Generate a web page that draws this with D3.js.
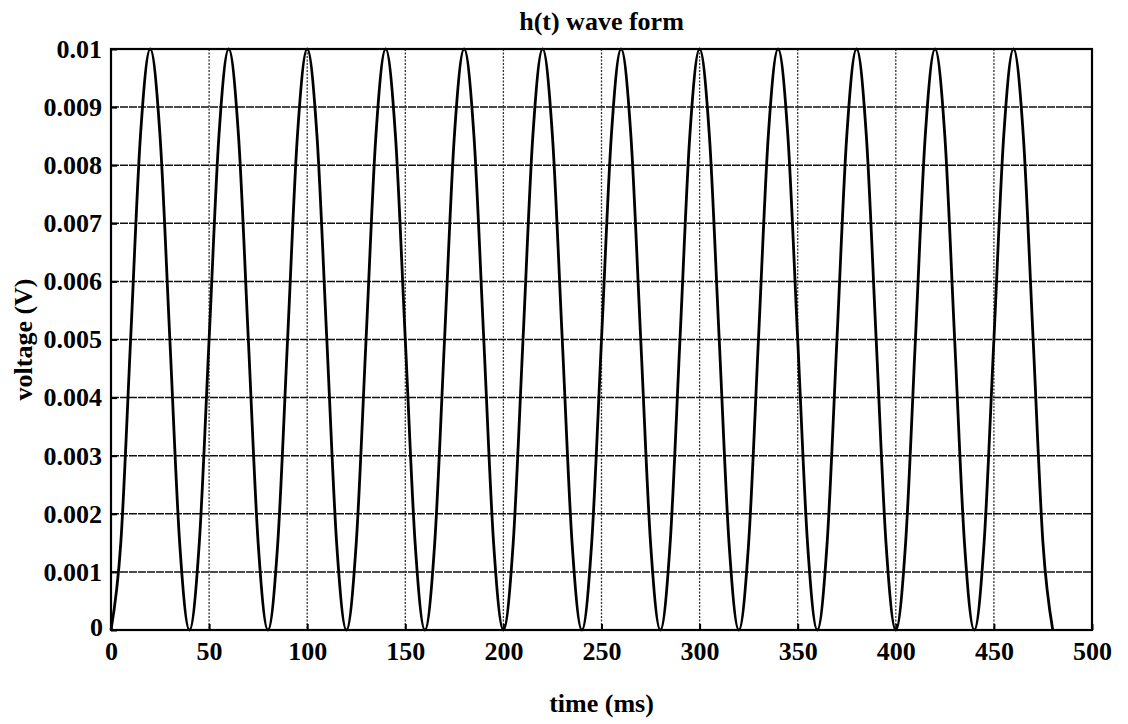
<!DOCTYPE html>
<html><head><meta charset="utf-8">
<script src="https://cdn.jsdelivr.net/npm/d3@7"></script>
<style>body{margin:0;background:#fff}svg{display:block}</style>
</head><body><svg id="c" width="1128" height="724"></svg>
<script>
const titleText = "h(t) wave form";
const xLabel = "time (ms)";
const yLabel = "voltage (V)";
const xTicks = [0,50,100,150,200,250,300,350,400,450,500];
const yTicks = [0,0.001,0.002,0.003,0.004,0.005,0.006,0.007,0.008,0.009,0.01];
const yTickLabels = ["0","0.001","0.002","0.003","0.004","0.005","0.006","0.007","0.008","0.009","0.01"];
const timeMs = [0,5,10,15,20,25,30,35,40,45,50,55,60,65,70,75,80,85,90,95,100,105,110,115,120,125,130,135,140,145,150,155,160,165,170,175,180,185,190,195,200,205,210,215,220,225,230,235,240,245,250,255,260,265,270,275,280,285,290,295,300,305,310,315,320,325,330,335,340,345,350,355,360,365,370,375,380,385,390,395,400,405,410,415,420,425,430,435,440,445,450,455,460,465,470,475,480];
const voltage = [
0,0.0015,0.005,0.0085,0.01,0.0085,0.005,0.0015,
0,0.0015,0.005,0.0085,0.01,0.0085,0.005,0.0015,
0,0.0015,0.005,0.0085,0.01,0.0085,0.005,0.0015,
0,0.0015,0.005,0.0085,0.01,0.0085,0.005,0.0015,
0,0.0015,0.005,0.0085,0.01,0.0085,0.005,0.0015,
0,0.0015,0.005,0.0085,0.01,0.0085,0.005,0.0015,
0,0.0015,0.005,0.0085,0.01,0.0085,0.005,0.0015,
0,0.0015,0.005,0.0085,0.01,0.0085,0.005,0.0015,
0,0.0015,0.005,0.0085,0.01,0.0085,0.005,0.0015,
0,0.0015,0.005,0.0085,0.01,0.0085,0.005,0.0015,
0,0.0015,0.005,0.0085,0.01,0.0085,0.005,0.0015,
0,0.0015,0.005,0.0085,0.01,0.0085,0.005,0.0015,
0];

const svg = d3.select("#c");
const m = {l:111, r:1092, t:49, b:630};
const x = d3.scaleLinear().domain([0,500]).range([m.l,m.r]);
const y = d3.scaleLinear().domain([0,0.01]).range([m.b,m.t]);
const font = "'Liberation Serif', 'Times New Roman', serif";

// grid
const g = svg.append("g");
g.selectAll(".hg").data(yTicks.slice(1,-1)).enter().append("line")
 .attr("x1",m.l).attr("x2",m.r).attr("y1",d=>y(d)).attr("y2",d=>y(d))
 .attr("stroke","#111").attr("stroke-width",1.5).attr("stroke-dasharray","8,1");
g.selectAll(".vg").data(xTicks.slice(1,-1)).enter().append("line")
 .attr("y1",m.t).attr("y2",m.b).attr("x1",d=>x(d)).attr("x2",d=>x(d))
 .attr("stroke","#333").attr("stroke-width",1.3).attr("stroke-dasharray","2,1.5");

// axes (inward ticks)
const ax = svg.append("g").attr("transform",`translate(0,${m.b})`)
 .call(d3.axisBottom(x).tickValues(xTicks).tickSize(-6).tickPadding(12).tickFormat(d3.format("d")));
const ay = svg.append("g").attr("transform",`translate(${m.l},0)`)
 .call(d3.axisLeft(y).tickValues(yTicks).tickSize(-6).tickPadding(9).tickFormat((d,i)=>yTickLabels[i]));
[ax,ay].forEach(a=>{
  a.select(".domain").remove();
  a.selectAll("line").attr("stroke","#000").attr("stroke-width",2);
  a.selectAll("text").attr("font-family",font).attr("font-size",26).attr("font-weight","bold").attr("fill","#000");
});
ax.selectAll("text").attr("dy","0.71em");
ay.selectAll("text").filter(d=>d===0).attr("dx",1).attr("dy","0.2em");

// frame
svg.append("rect").attr("x",m.l).attr("y",m.t).attr("width",m.r-m.l).attr("height",m.b-m.t)
 .attr("fill","none").attr("stroke","#000").attr("stroke-width",2.2);

// wave
const pts = timeMs.map((t,i)=>[t,voltage[i]]);
svg.append("path").datum(pts)
 .attr("d",d3.line().x(d=>x(d[0])).y(d=>y(d[1])).curve(d3.curveMonotoneX))
 .attr("fill","none").attr("stroke","#000").attr("stroke-width",2.8);

// labels
const cx = (m.l+m.r)/2;
svg.append("text").attr("x",cx).attr("y",30).attr("text-anchor","middle")
 .attr("font-family",font).attr("font-size",26).attr("font-weight","bold").text(titleText);
svg.append("text").attr("x",cx).attr("y",712).attr("text-anchor","middle")
 .attr("font-family",font).attr("font-size",26).attr("font-weight","bold").text(xLabel);
svg.append("text").attr("transform",`translate(32,${(m.t+m.b)/2}) rotate(-90)`).attr("text-anchor","middle")
 .attr("font-family",font).attr("font-size",26).attr("font-weight","bold").text(yLabel);
</script></body></html>
